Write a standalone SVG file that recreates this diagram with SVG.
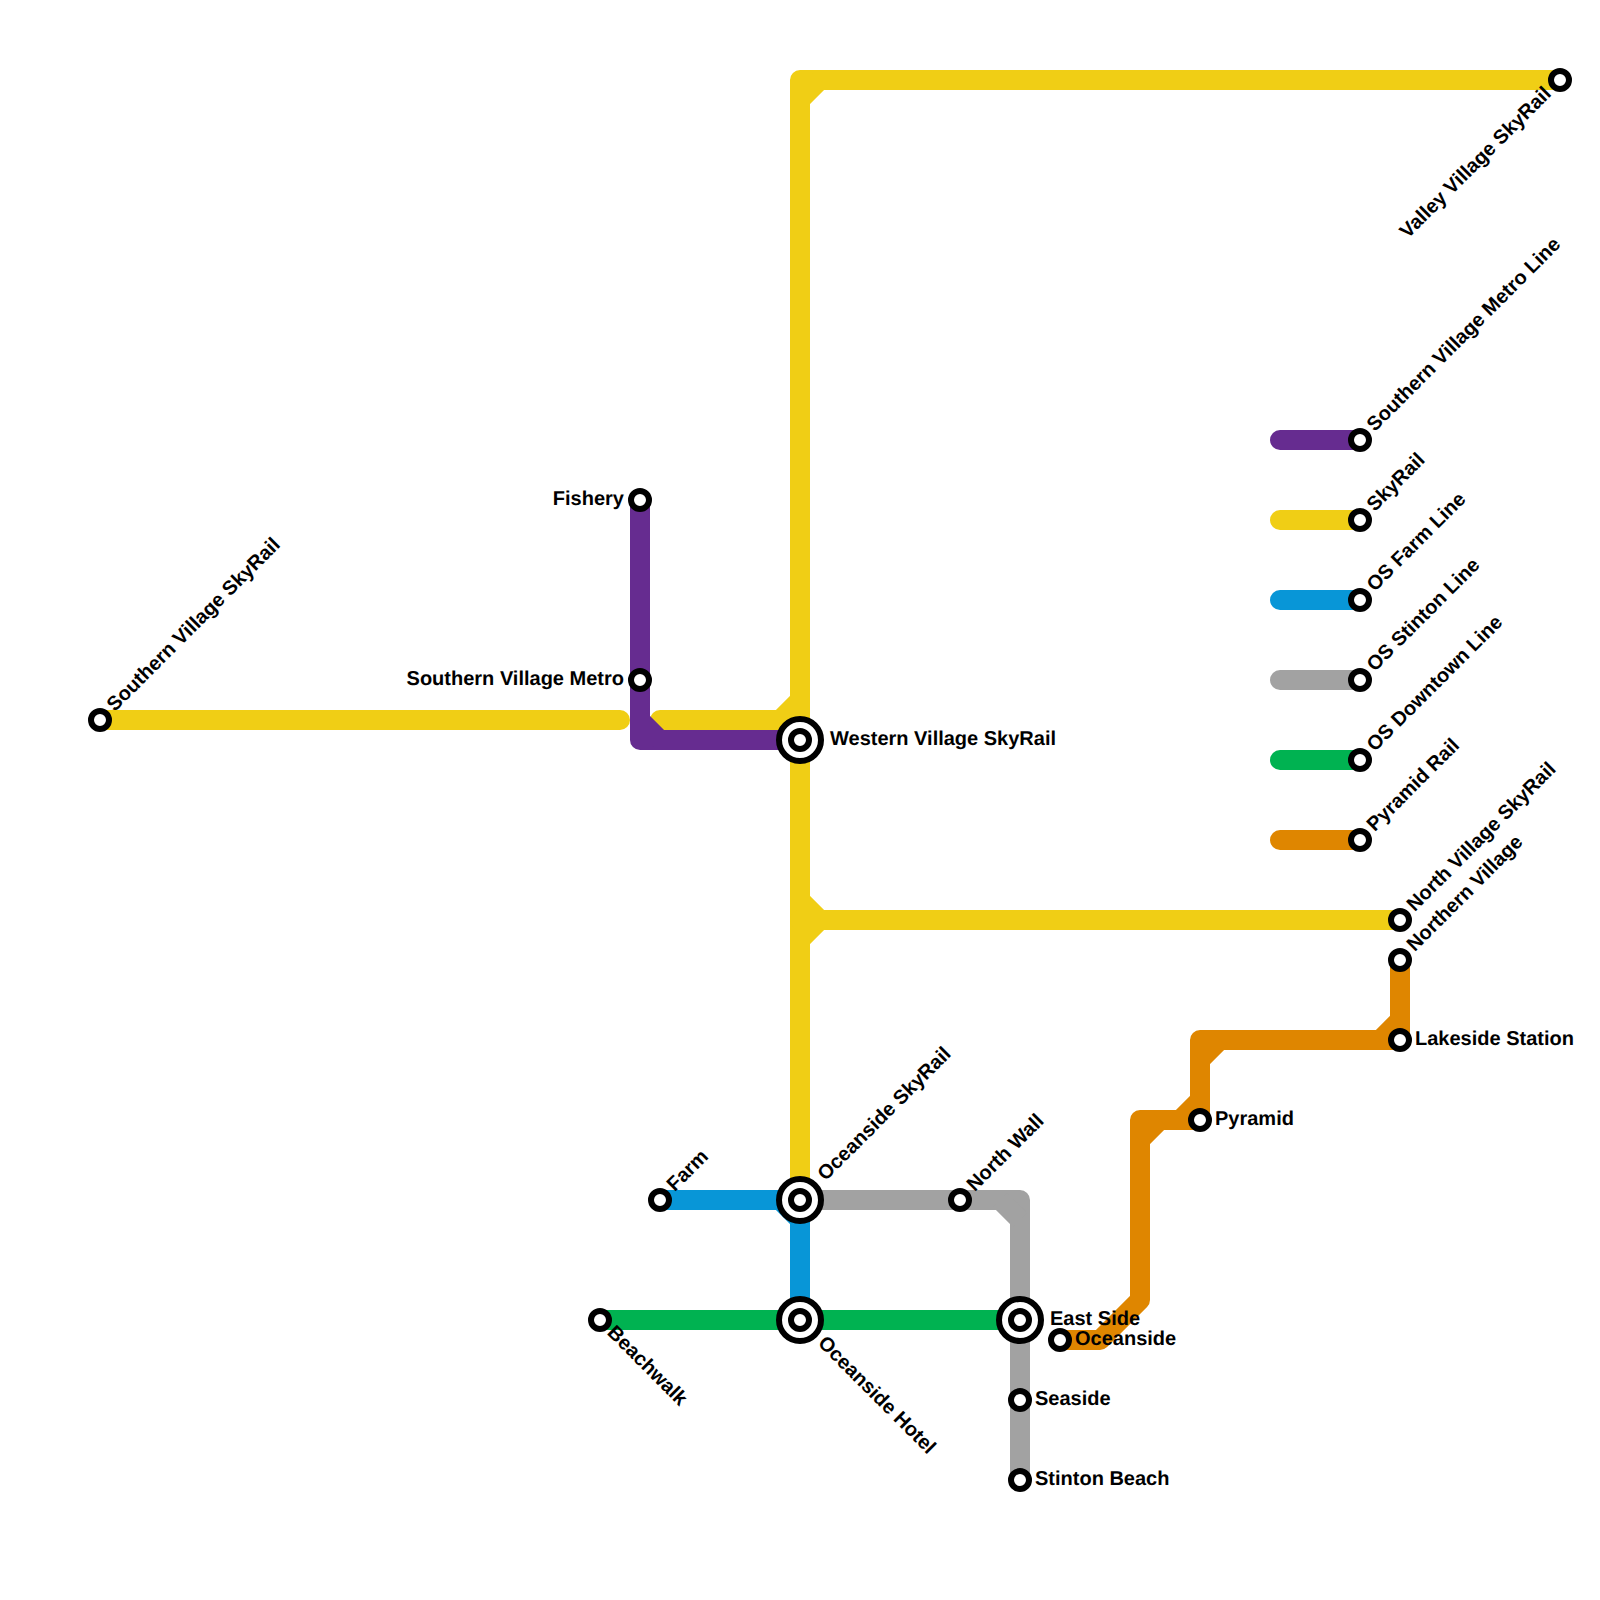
<svg xmlns="http://www.w3.org/2000/svg" width="1600" height="1600" viewBox="0 0 1600 1600">
<style>
.l{fill:none;stroke-width:20;stroke-linecap:round;stroke-linejoin:round}
.d{fill:none;stroke-width:20;stroke-linecap:butt}
.y{stroke:#f0ce15}.p{stroke:#662c90}.b{stroke:#0896d7}.g{stroke:#a2a2a2}.n{stroke:#00b251}.o{stroke:#df8600}
.s{fill:#fff;stroke:#000;stroke-width:6}
text{font-family:"Liberation Sans",Arial,sans-serif;font-weight:700;font-size:20px;fill:#000;text-rendering:geometricPrecision}
.e{text-anchor:end}
</style>
<rect width="1600" height="1600" fill="#fff"/>
<g id="connectors">
<path class="l y" d="M100 720H620"/>
<path class="l y" d="M660 720H780L800 700"/>
<path class="l y" d="M800 1200V80H1560"/>
<path class="d y" d="M800 100L820 80"/>
<path class="l y" d="M800 920H1400"/>
<path class="d y" d="M800 900L820 920M800 940L820 920"/>
<path class="l p" d="M640 500V740H800"/>
<path class="d p" d="M640 720L660 740"/>
<path class="l b" d="M660 1200H800V1320"/>
<path class="d b" d="M780 1200L800 1220"/>
<path class="l g" d="M800 1200H1020V1480"/>
<path class="d g" d="M1000 1200L1020 1220"/>
<path class="l n" d="M600 1320H1020"/>
<path class="l o" d="M1060 1340H1100L1140 1300V1120H1200V1040H1400V960"/>
<path class="d o" d="M1140 1140L1160 1120M1180 1120L1200 1100M1200 1060L1220 1040M1380 1040L1400 1020"/>
<path class="l p" d="M1280 440H1360"/>
<path class="l y" d="M1280 520H1360"/>
<path class="l b" d="M1280 600H1360"/>
<path class="l g" d="M1280 680H1360"/>
<path class="l n" d="M1280 760H1360"/>
<path class="l o" d="M1280 840H1360"/>
</g>
<g id="n-southern-village-skyrail"><circle class="s" cx="100" cy="720" r="9"/><text transform="translate(100 720) rotate(-45)" x="16" y="5">Southern Village SkyRail</text></g>
<g id="n-fishery"><circle class="s" cx="640" cy="500" r="9"/><text class="e" x="624" y="505">Fishery</text></g>
<g id="n-southern-village-metro"><circle class="s" cx="640" cy="680" r="9"/><text class="e" x="624" y="685">Southern Village Metro</text></g>
<g id="n-western-village-skyrail"><circle class="s" cx="800" cy="740" r="21"/><circle class="s" cx="800" cy="740" r="9"/><text x="830" y="745">Western Village SkyRail</text></g>
<g id="n-valley-village-skyrail"><circle class="s" cx="1560" cy="80" r="9"/><text class="e" transform="translate(1560 80) rotate(-45)" x="-16" y="5">Valley Village SkyRail</text></g>
<g id="n-north-village-skyrail"><circle class="s" cx="1400" cy="920" r="9"/><text transform="translate(1400 920) rotate(-45)" x="16" y="5">North Village SkyRail</text></g>
<g id="n-northern-village"><circle class="s" cx="1400" cy="960" r="9"/><text transform="translate(1400 960) rotate(-45)" x="16" y="5">Northern Village</text></g>
<g id="n-lakeside-station"><circle class="s" cx="1400" cy="1040" r="9"/><text x="1415" y="1045">Lakeside Station</text></g>
<g id="n-pyramid"><circle class="s" cx="1200" cy="1120" r="9"/><text x="1215" y="1125">Pyramid</text></g>
<g id="n-farm"><circle class="s" cx="660" cy="1200" r="9"/><text transform="translate(660 1200) rotate(-45)" x="16" y="5">Farm</text></g>
<g id="n-oceanside-skyrail"><circle class="s" cx="800" cy="1200" r="21"/><circle class="s" cx="800" cy="1200" r="9"/><text transform="translate(800 1200) rotate(-45)" x="31" y="5">Oceanside SkyRail</text></g>
<g id="n-north-wall"><circle class="s" cx="960" cy="1200" r="9"/><text transform="translate(960 1200) rotate(-45)" x="16" y="5">North Wall</text></g>
<g id="n-beachwalk"><circle class="s" cx="600" cy="1320" r="9"/><text transform="translate(600 1320) rotate(45)" x="14" y="5">Beachwalk</text></g>
<g id="n-oceanside-hotel"><circle class="s" cx="800" cy="1320" r="21"/><circle class="s" cx="800" cy="1320" r="9"/><text transform="translate(800 1320) rotate(45)" x="29" y="5">Oceanside Hotel</text></g>
<g id="n-east-side"><circle class="s" cx="1020" cy="1320" r="21"/><circle class="s" cx="1020" cy="1320" r="9"/><text x="1050" y="1325">East Side</text></g>
<g id="n-oceanside"><circle class="s" cx="1060" cy="1340" r="9"/><text x="1075" y="1345">Oceanside</text></g>
<g id="n-seaside"><circle class="s" cx="1020" cy="1400" r="9"/><text x="1035" y="1405">Seaside</text></g>
<g id="n-stinton-beach"><circle class="s" cx="1020" cy="1480" r="9"/><text x="1035" y="1485">Stinton Beach</text></g>
<g id="n-southern-village-metro-line"><circle class="s" cx="1360" cy="440" r="9"/><text transform="translate(1360 440) rotate(-45)" x="16" y="5">Southern Village Metro Line</text></g>
<g id="n-skyrail"><circle class="s" cx="1360" cy="520" r="9"/><text transform="translate(1360 520) rotate(-45)" x="16" y="5">SkyRail</text></g>
<g id="n-os-farm-line"><circle class="s" cx="1360" cy="600" r="9"/><text transform="translate(1360 600) rotate(-45)" x="16" y="5">OS Farm Line</text></g>
<g id="n-os-stinton-line"><circle class="s" cx="1360" cy="680" r="9"/><text transform="translate(1360 680) rotate(-45)" x="16" y="5">OS Stinton Line</text></g>
<g id="n-os-downtown-line"><circle class="s" cx="1360" cy="760" r="9"/><text transform="translate(1360 760) rotate(-45)" x="16" y="5">OS Downtown Line</text></g>
<g id="n-pyramid-rail"><circle class="s" cx="1360" cy="840" r="9"/><text transform="translate(1360 840) rotate(-45)" x="16" y="5">Pyramid Rail</text></g>
</svg>
